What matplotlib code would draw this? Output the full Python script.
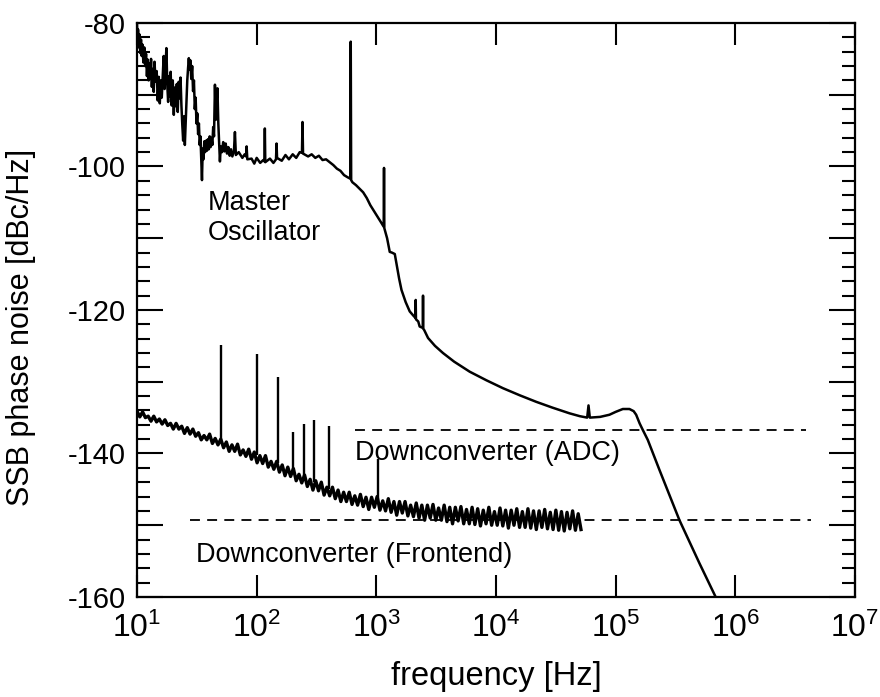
import numpy as np
import matplotlib
matplotlib.use("Agg")
import matplotlib.pyplot as plt
from matplotlib.ticker import MultipleLocator, FuncFormatter, NullLocator

plt.rcParams['font.family'] = ['Liberation Sans', 'DejaVu Sans']
plt.rcParams['mathtext.fontset'] = 'custom'
plt.rcParams['mathtext.rm'] = 'Liberation Sans'
plt.rcParams['mathtext.it'] = 'Liberation Sans:italic'
plt.rcParams['axes.unicode_minus'] = False

# master oscillator SSB phase noise (Hz, dBc/Hz)
mo_freq = [10.0, 10.1, 10.2, 10.35, 10.5, 10.65, 10.8, 10.95, 11.1, 11.3,
           11.5, 11.7, 11.9, 12.1, 12.3, 12.5, 12.7, 12.9, 13.1, 13.3,
           13.5, 13.8, 14.0, 14.3, 14.6, 14.9, 15.2, 15.5, 15.8, 16.1,
           16.4, 16.7, 17.0, 17.3, 17.6, 17.9, 18.2, 18.5, 18.8, 19.1,
           19.5, 19.9, 20.3, 20.7, 21.1, 21.5, 21.9, 22.3, 22.7, 23.1,
           23.5, 23.9, 24.3, 24.7, 25.1, 25.5, 25.9, 26.3, 26.7, 27.1,
           27.5, 27.9, 28.4, 28.9, 29.4, 29.9, 30.4, 30.9, 31.4, 31.9,
           32.4, 32.9, 33.4, 33.9, 34.4, 34.9, 35.4, 35.9, 36.5, 37.1,
           37.7, 38.4, 39.1, 39.8, 40.5, 41.2, 41.9, 42.6, 43.3, 44.0,
           44.8, 45.5, 46.2, 47.0, 47.8, 48.6, 49.3, 50.1, 51.3, 52.5,
           53.8, 55.1, 56.5, 58.0, 59.5, 61.0, 62.6, 64.6, 65.8, 67.0,
           70.8, 75.9, 79.4, 81.5, 82.4, 83.5, 90.6, 95.5, 100, 107,
           113.5, 116, 117, 118, 129, 138, 145, 146.6, 148, 162,
           174, 186, 200, 214, 229, 239, 241.5, 244, 269, 288,
           309, 331, 355, 380, 407, 437, 468, 501, 537, 575,
           606, 611, 616, 631, 676, 724, 776, 832, 891, 955,
           1023, 1096, 1152, 1159, 1166, 1230, 1294, 1349, 1426, 1489,
           1549, 1622, 1758, 1901, 2042, 2123, 2133, 2143, 2239, 2301,
           2443, 2455, 2467, 2512, 2704, 3090, 3606, 4467, 6026, 8318,
           11430, 15850, 21680, 29510, 41110, 50120, 57800, 59290, 60800, 74130,
           88720, 100000, 114800, 130300, 141300, 148300, 158500, 168300, 185400, 232300,
           341200, 501200, 707900]
mo_ssb = [-80.3, -82.8, -80.9, -83.4, -81.6, -84.2, -82.3, -84.6, -83.0, -85.5,
          -83.4, -86.0, -84.3, -87.4, -85.1, -88.0, -85.6, -87.8, -85.0, -88.9,
          -86.4, -89.6, -85.4, -88.2, -86.7, -90.8, -87.5, -91.2, -88.0, -90.4,
          -87.3, -84.6, -89.2, -86.0, -83.5, -88.6, -91.0, -87.4, -90.2, -86.8,
          -91.5, -88.0, -92.8, -89.0, -91.6, -88.5, -92.4, -88.2, -90.5, -87.6,
          -91.5, -94.2, -96.4, -93.0, -97.0, -94.0, -91.0, -88.0, -86.3, -84.9,
          -86.5, -85.2, -87.8, -86.0, -89.5, -88.0, -92.0, -90.4, -94.0, -92.6,
          -95.5, -94.0, -97.0, -95.8, -99.0, -101.9, -97.5, -99.0, -96.5, -98.0,
          -96.4, -97.8, -96.2, -97.6, -95.8, -97.3, -96.0, -97.0, -94.5, -95.8,
          -88.6, -93.5, -91.0, -89.1, -94.0, -97.0, -99.3, -97.2, -98.0, -96.6,
          -97.9, -96.8, -98.2, -97.3, -98.5, -97.6, -98.6, -97.8, -95.2, -98.4,
          -98.0, -98.8, -98.3, -98.6, -97.2, -99.0, -98.9, -99.6, -98.8, -99.5,
          -99.1, -99.3, -94.7, -99.4, -98.9, -99.5, -99.0, -96.8, -98.8, -99.2,
          -98.4, -99.0, -98.3, -98.8, -98.0, -98.1, -93.8, -98.2, -98.6, -98.3,
          -98.8, -98.5, -99.1, -99.0, -99.4, -99.8, -100.3, -100.6, -101.2, -101.5,
          -101.7, -82.6, -101.9, -102.2, -102.6, -103.1, -103.6, -104.4, -105.4, -106.2,
          -107.0, -107.8, -108.4, -100.2, -108.6, -110.0, -111.9, -112.0, -112.2, -114.0,
          -115.6, -117.2, -118.9, -120.2, -120.8, -121.1, -118.6, -121.3, -121.6, -122.3,
          -122.5, -118.0, -122.6, -122.8, -123.9, -125.0, -126.0, -127.2, -128.6, -129.8,
          -130.9, -131.9, -132.8, -133.6, -134.4, -134.8, -135.0, -133.3, -135.0, -134.9,
          -134.6, -134.2, -133.8, -133.8, -134.1, -134.6, -135.8, -136.7, -138.1, -142.3,
          -149.3, -155.3, -160.5]

# downconverter (frontend) trace, analyzer sweep 10 Hz .. 51.3 kHz
fe_fstart = 10
fe_fstop = 51300
fe_ssb = [-134.1, -134.9, -134.2, -135.0, -134.8, -135.5, -134.8, -135.6, -135.2, -135.9,
          -135.3, -136.1, -135.8, -136.6, -135.8, -136.6, -136.2, -137.2, -136.4, -137.3,
          -136.6, -137.6, -137.1, -138.1, -137.5, -138.1, -137.3, -138.6, -137.9, -138.8,
          -138.0, -139.2, -138.4, -139.7, -138.8, -139.7, -138.7, -140.2, -139.5, -140.4,
          -139.4, -140.8, -139.8, -141.3, -140.3, -141.4, -140.3, -141.9, -141.1, -142.2,
          -141.1, -142.6, -141.6, -143.1, -141.9, -143.2, -142.1, -143.8, -142.9, -144.1,
          -143.0, -144.6, -143.6, -145.1, -143.8, -145.2, -144.0, -145.8, -144.7, -145.9,
          -144.7, -146.3, -145.1, -146.7, -145.4, -146.7, -145.4, -147.1, -145.9, -147.2,
          -145.7, -147.4, -146.1, -147.8, -146.1, -147.5, -146.0, -147.9, -146.6, -148.0,
          -146.3, -148.2, -146.7, -148.6, -146.7, -148.3, -146.7, -148.7, -147.2, -148.8,
          -146.9, -149.0, -147.2, -149.3, -147.2, -149.0, -147.1, -149.3, -147.6, -149.3,
          -147.2, -149.5, -147.5, -149.8, -147.5, -149.4, -147.4, -149.8, -147.8, -149.8,
          -147.5, -149.9, -147.7, -150.1, -147.9, -149.8, -147.5, -150.0, -148.1, -150.0,
          -147.6, -150.1, -147.9, -150.4, -147.9, -150.0, -147.7, -150.3, -148.1, -150.3,
          -147.7, -150.4, -148.0, -150.6, -148.0, -150.3, -147.8, -150.5, -148.2, -150.6,
          -147.9, -150.7, -148.1, -150.8, -148.2, -150.5, -148.0, -150.7, -148.4, -150.6]

# spurs on the frontend trace
spur_freq = [50, 100, 150, 200, 250, 300, 400, 1040]
spur_base = [-138.1, -140.2, -141.3, -142.5, -143.5, -144.0, -145.0, -146.8]
spur_top = [-124.9, -126.2, -129.3, -137.0, -135.9, -135.4, -136.1, -140.8]

# noise floors (dashed)
adc_floor = -136.7
adc_from, adc_to = 661, 3.9e6
fe_floor = -149.3
fe_from, fe_to = 27.7, 4.28e6

fe_freq = np.geomspace(fe_fstart, fe_fstop, len(fe_ssb))

fig = plt.figure(figsize=(8.8, 6.97), dpi=100)
ax = fig.add_axes([0.1557, 0.1435, 0.8159, 0.8235])

ax.plot(mo_freq, mo_ssb, color='black', lw=1.8)
ax.plot(fe_freq, fe_ssb, color='black', lw=2.4)
ax.vlines(spur_freq, spur_base, spur_top, color='black', lw=1.7)

ax.hlines(adc_floor, adc_from, adc_to, color='black', lw=1.3, linestyles=(0, (5.5, 4)))
ax.hlines(fe_floor, fe_from, fe_to, color='black', lw=1.3, linestyles=(0, (5.5, 4)))

ax.text(39.2, -106.1, "Master", fontsize=19.5, va='baseline')
ax.text(39.2, -110.2, "Oscillator", fontsize=19.5, va='baseline')
ax.text(661, -140.9, "Downconverter (ADC)", fontsize=19.5, va='baseline')
ax.text(31, -155.1, "Downconverter (Frontend)", fontsize=19.5, va='baseline')

ax.set_xscale('log')
ax.set_xlim(10, 1e7)
ax.set_ylim(-160, -80)
ax.set_xticks([1e1, 1e2, 1e3, 1e4, 1e5, 1e6, 1e7])
ax.xaxis.set_minor_locator(NullLocator())
ax.yaxis.set_major_locator(MultipleLocator(10))
ax.yaxis.set_minor_locator(MultipleLocator(2))
ax.yaxis.set_major_formatter(FuncFormatter(lambda v, p: "%d" % v if int(round(v)) % 20 == 0 else ""))

ax.tick_params(axis='both', which='both', direction='in', top=True, right=True,
               width=1.5, labelsize=21)
ax.tick_params(axis='x', which='major', length=16, pad=11, labelsize=23)
ax.tick_params(axis='y', which='major', length=13.7, pad=8)
ax.tick_params(axis='y', which='minor', length=9.4)
for s in ax.spines.values():
    s.set_linewidth(1.6)

# longer ticks on the labelled values
for t in ax.yaxis.get_major_ticks():
    if int(round(t.get_loc())) % 20 == 0:
        t.tick1line.set_markersize(18.7)
        t.tick2line.set_markersize(18.7)

ax.set_xlabel("frequency [Hz]", fontsize=23.5)
ax.set_ylabel("SSB phase noise [dBc/Hz]", fontsize=22)
ax.xaxis.set_label_coords(0.5, -0.112)
ax.yaxis.set_label_coords(-0.141, 0.47)

fig.savefig("out.png", dpi=100)
